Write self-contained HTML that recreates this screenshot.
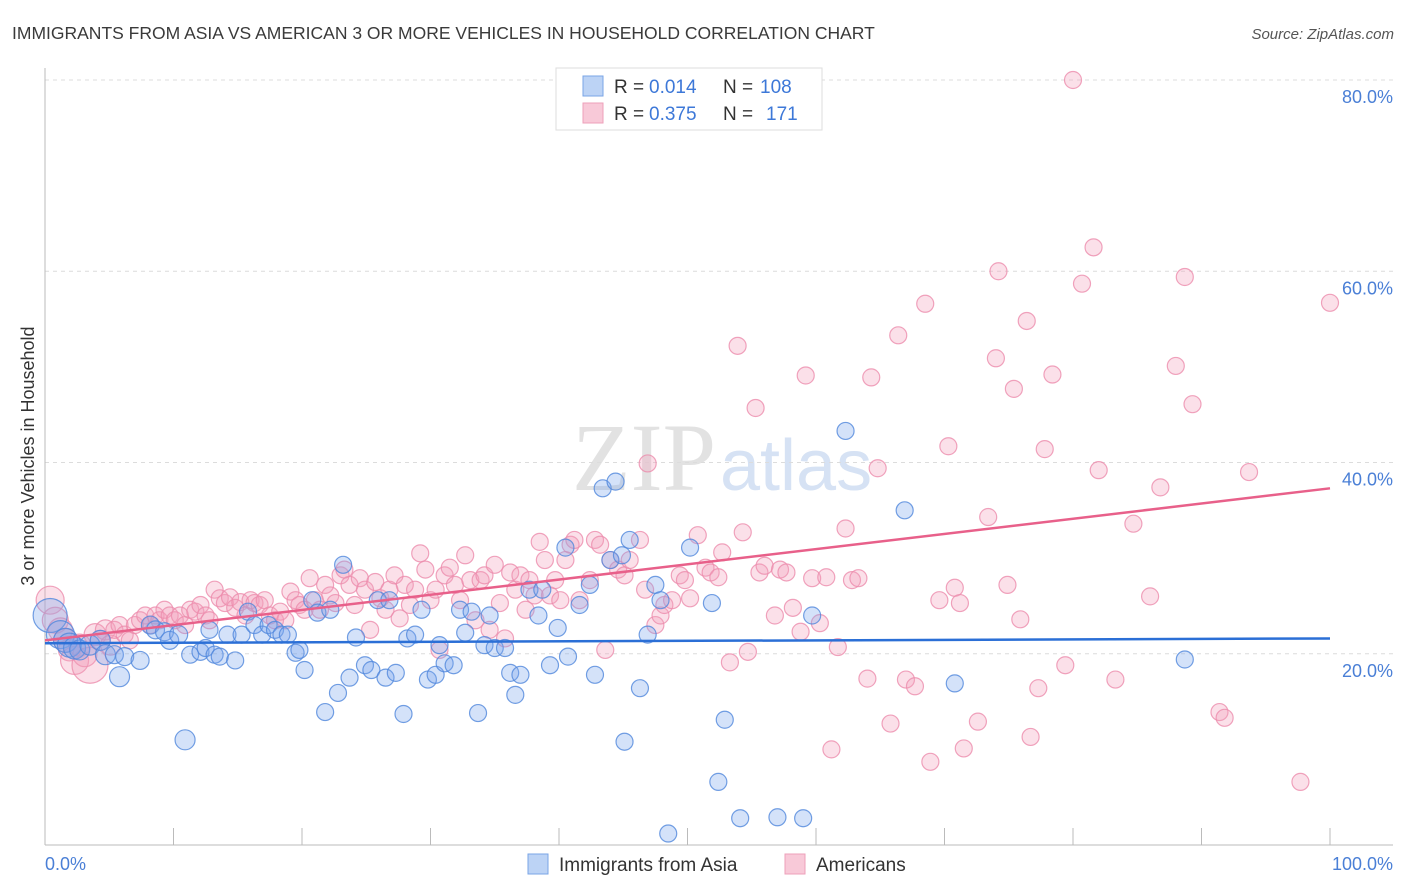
<!DOCTYPE html>
<html><head><meta charset="utf-8"><style>
body{margin:0;background:#fff;font-family:"Liberation Sans",sans-serif;}
</style></head><body>
<svg id="chart" width="1406" height="892" viewBox="0 0 1406 892" xmlns="http://www.w3.org/2000/svg" style="display:block">
<text x="12" y="39" font-size="17.5" fill="#3a3a3a">IMMIGRANTS FROM ASIA VS AMERICAN 3 OR MORE VEHICLES IN HOUSEHOLD CORRELATION CHART</text>
<text x="1394" y="39" font-size="15" fill="#555" font-style="italic" text-anchor="end">Source: ZipAtlas.com</text>
<text x="716" y="490" font-size="96" text-anchor="end" fill="#e2e2e2" font-family="Liberation Serif,serif">ZIP</text>
<text x="720" y="490" font-size="72" fill="#d6e2f4">atlas</text>
<text transform="translate(34,456) rotate(-90)" font-size="18" fill="#333" text-anchor="middle">3 or more Vehicles in Household</text>
<g id="grid"></g>
<g id="axes"></g>
<g id="marks"></g>
<g>
<rect x="556" y="68" width="266" height="62" fill="#fff" stroke="#ddd"/>
<rect x="583" y="76" width="20" height="20" fill="#bcd3f5" stroke="#7aa4e6"/>
<rect x="583" y="103" width="20" height="20" fill="#f8c9d8" stroke="#eea0ba"/>
<text x="614" y="93" font-size="19" fill="#333">R =</text>
<text x="649" y="93" font-size="19" fill="#3d78d8">0.014</text>
<text x="723" y="93" font-size="19" fill="#333">N =</text>
<text x="760" y="93" font-size="19" fill="#3d78d8">108</text>
<text x="614" y="120" font-size="19" fill="#333">R =</text>
<text x="649" y="120" font-size="19" fill="#3d78d8">0.375</text>
<text x="723" y="120" font-size="19" fill="#333">N =</text>
<text x="766" y="120" font-size="19" fill="#3d78d8">171</text>
</g>
<g>
<rect x="528" y="854" width="20" height="20" fill="#bcd3f5" stroke="#7aa4e6"/>
<text x="559" y="871" font-size="19" fill="#333">Immigrants from Asia</text>
<rect x="785" y="854" width="20" height="20" fill="#f8c9d8" stroke="#eea0ba"/>
<text x="816" y="871" font-size="19" fill="#333">Americans</text>
</g>
</svg>
<script>
const xTicks=[0,10,20,30,40,50,60,70,80,90,100];
const yTicks=[20,40,60,80];
const yTickLabels=["20.0%","40.0%","60.0%","80.0%"];
const blueX=[0.4,1.2,1.6,1.9,2.3,2.7,3.5,4.3,4.7,5.4,5.8,6.2,7.4,8.2,8.6,9.3,9.7,10.4,10.9,11.3,12.1,12.5,12.8,13.2,13.6,14.2,14.8,15.3,15.8,16.3,16.9,17.4,17.9,18.4,18.9,19.5,19.8,20.2,20.8,21.2,21.8,22.2,22.8,23.2,23.7,24.2,24.9,25.4,25.9,26.5,26.8,27.3,27.9,28.2,28.8,29.3,29.8,30.4,30.7,31.1,31.8,32.3,32.7,33.2,33.7,34.2,34.6,35.0,35.8,36.2,36.6,37.0,37.7,38.4,38.7,39.3,39.9,40.5,40.7,41.6,42.4,42.8,43.4,44.0,44.4,44.9,45.1,45.5,46.3,46.9,47.5,47.9,48.5,50.2,51.9,52.4,52.9,54.1,57.0,59.0,59.7,62.3,66.9,70.8,88.7];
const blueY=[24.0,22.0,21.4,20.9,20.6,20.4,20.9,21.4,19.9,19.9,17.6,19.7,19.3,23.0,22.5,22.3,21.4,22.0,11.0,19.9,20.2,20.6,22.5,19.9,19.7,22.0,19.3,22.0,24.4,23.0,22.0,23.0,22.5,22.0,22.0,20.1,20.4,18.3,25.6,24.3,13.9,24.6,15.9,29.3,17.5,21.7,18.8,18.3,25.6,17.5,25.6,18.0,13.7,21.6,22.0,24.6,17.3,17.8,20.9,19.0,18.8,24.6,22.2,24.4,13.8,20.9,24.0,20.6,20.6,18.0,15.7,17.8,26.7,24.0,26.7,18.8,22.7,31.1,19.7,25.1,27.2,17.8,37.3,29.8,38.0,30.3,10.8,31.9,16.4,22.0,27.2,25.6,1.2,31.1,25.3,6.6,13.1,2.8,2.9,2.8,24.0,43.3,35.0,16.9,19.4];
const blueR=[17,14,12,12,11,10,10,10,10,9,10,9,9,9,9,9,9,9,10];
const pinkX=[0.4,0.8,1.2,1.6,1.9,2.3,2.7,3.1,3.5,3.9,4.3,4.7,5.1,5.4,5.8,6.2,6.6,7.0,7.4,7.8,8.2,8.6,8.9,9.3,9.7,10.1,10.5,10.9,11.3,11.7,12.1,12.5,12.8,13.2,13.6,14.0,14.4,14.8,15.2,15.6,16.0,16.3,16.7,17.1,17.5,17.9,18.3,18.7,19.1,19.5,19.8,20.2,20.6,21.0,21.4,21.8,22.2,22.6,23.0,23.3,23.7,24.1,24.5,24.9,25.3,25.7,26.1,26.5,26.8,27.2,27.6,28.0,28.4,28.8,29.2,29.6,30.0,30.4,30.7,31.1,31.5,31.9,32.3,32.7,33.1,33.5,33.9,34.2,34.6,35.0,35.4,35.8,36.2,36.6,37.0,37.4,37.7,38.1,38.5,38.9,39.3,39.7,40.1,40.5,40.9,41.2,41.6,42.4,42.8,43.2,43.6,44.0,44.6,45.1,45.5,46.3,46.7,46.9,47.5,47.9,48.2,48.8,49.4,49.8,50.2,50.8,51.4,51.8,52.4,52.7,53.3,53.9,54.3,54.7,55.3,55.6,56.0,56.8,57.2,57.7,58.2,58.8,59.2,59.7,60.3,60.8,61.2,61.7,62.3,62.8,63.3,64.0,64.3,64.8,65.8,66.4,67.0,67.7,68.5,68.9,69.6,70.3,70.8,71.2,71.5,72.6,73.4,74.0,74.2,74.9,75.4,75.9,76.4,76.7,77.3,77.8,78.4,79.4,80.0,80.7,81.6,82.0,83.3,84.7,86.0,86.8,88.0,88.7,89.3,91.4,91.8,93.7,97.7,100.0];
const pinkY=[25.6,23.5,22.5,21.4,20.4,19.3,20.9,19.9,18.8,22.0,21.4,22.5,20.9,22.5,23.0,22.0,21.4,23.0,23.5,24.0,23.0,24.0,23.5,24.6,24.0,23.5,24.0,23.0,24.6,24.4,25.1,24.0,23.5,26.7,25.8,25.3,25.9,24.8,25.4,24.0,25.6,25.3,25.1,25.6,24.0,23.5,24.4,23.5,26.5,25.6,25.1,24.6,27.9,25.6,24.6,27.2,26.1,25.3,28.2,28.8,27.2,25.1,27.9,26.7,22.5,27.5,25.8,24.6,26.7,28.2,23.7,27.2,25.1,26.7,30.5,28.8,25.6,26.7,20.4,28.2,29.0,27.2,25.6,30.3,27.7,23.5,27.7,28.2,22.5,29.3,25.3,21.6,28.5,26.7,28.2,24.6,27.7,26.1,31.7,29.8,26.1,27.7,25.6,29.8,31.4,31.9,25.6,27.7,31.9,31.4,20.4,29.8,28.8,28.2,29.8,31.9,26.7,39.9,23.0,24.0,25.1,25.6,28.2,27.7,25.8,32.4,29.0,28.5,28.0,30.6,19.1,52.2,32.7,20.2,45.7,28.5,29.2,24.0,28.8,28.5,24.8,22.3,49.1,27.9,23.2,28.0,10.0,20.7,33.1,27.7,27.9,17.4,48.9,39.4,12.7,53.3,17.3,16.6,56.6,8.7,25.6,41.7,26.9,25.3,10.1,12.9,34.3,50.9,60.0,27.2,47.7,23.6,54.8,11.3,16.4,41.4,49.2,18.8,80.0,58.7,62.5,39.2,17.3,33.6,26.0,37.4,50.1,59.4,46.1,13.9,13.3,39.0,6.6,56.7];
const pinkR=[14,13,12,12,11,14,11,12,18,11,10,10,10];
const blueTrend=[21.1,21.6];
const pinkTrend=[21.4,37.3];

const X0=45,X1=1330,YB=845,Y80=80;
const xs=v=>X0+(X1-X0)*v/100;
const ys=v=>YB-(YB-Y80)*v/80;
const NS="http://www.w3.org/2000/svg";
function mk(tag,attrs,parent){const e=document.createElementNS(NS,tag);for(const k in attrs)e.setAttribute(k,attrs[k]);parent.appendChild(e);return e;}
const grid=document.getElementById('grid'),axes=document.getElementById('axes'),marks=document.getElementById('marks');
yTicks.forEach((t,i)=>{
  const l=mk('line',{x1:45,x2:1393,y1:ys(t),y2:ys(t),stroke:'#dcdcdc','stroke-dasharray':'4,4'},grid);
  
  
  const tx=mk('text',{x:1393,y:ys(t)+23,'font-size':18,fill:'#4a7fd6','text-anchor':'end'},axes);
  tx.textContent=yTickLabels[i];
  
  
});
const la=mk('line',{x1:45,x2:45,y1:68,y2:845,stroke:'#bbb'},axes);


const lb=mk('line',{x1:45,x2:1393,y1:845,y2:845,stroke:'#bbb'},axes);


xTicks.forEach(t=>{
  const tk=mk('line',{x1:xs(t),x2:xs(t),y1:828,y2:845,stroke:'#bbb'},axes);
  
  
});
const xl0=mk('text',{x:45,y:870,'font-size':18,fill:'#4a7fd6'},axes);xl0.textContent='0.0%';


const xl1=mk('text',{x:1393,y:870,'font-size':18,fill:'#4a7fd6','text-anchor':'end'},axes);xl1.textContent='100.0%';



pinkX.forEach((v,i)=>{
  const c=mk('circle',{cx:xs(v),cy:ys(pinkY[i]),r:pinkR[i]||8.5,fill:'rgba(244,160,188,0.32)',stroke:'rgba(236,140,172,0.8)','stroke-width':1.2},marks);
  
  
});
blueX.forEach((v,i)=>{
  const c=mk('circle',{cx:xs(v),cy:ys(blueY[i]),r:blueR[i]||8.5,fill:'rgba(120,165,235,0.32)',stroke:'rgba(80,135,220,0.8)','stroke-width':1.2},marks);
  
  
});
const bl=mk('line',{x1:xs(0),x2:xs(100),y1:ys(blueTrend[0]),y2:ys(blueTrend[1]),stroke:'#2b6fd6','stroke-width':2.5},marks);


const pl=mk('line',{x1:xs(0),x2:xs(100),y1:ys(pinkTrend[0]),y2:ys(pinkTrend[1]),stroke:'#e8608a','stroke-width':2.5},marks);


</script>
</body></html>
